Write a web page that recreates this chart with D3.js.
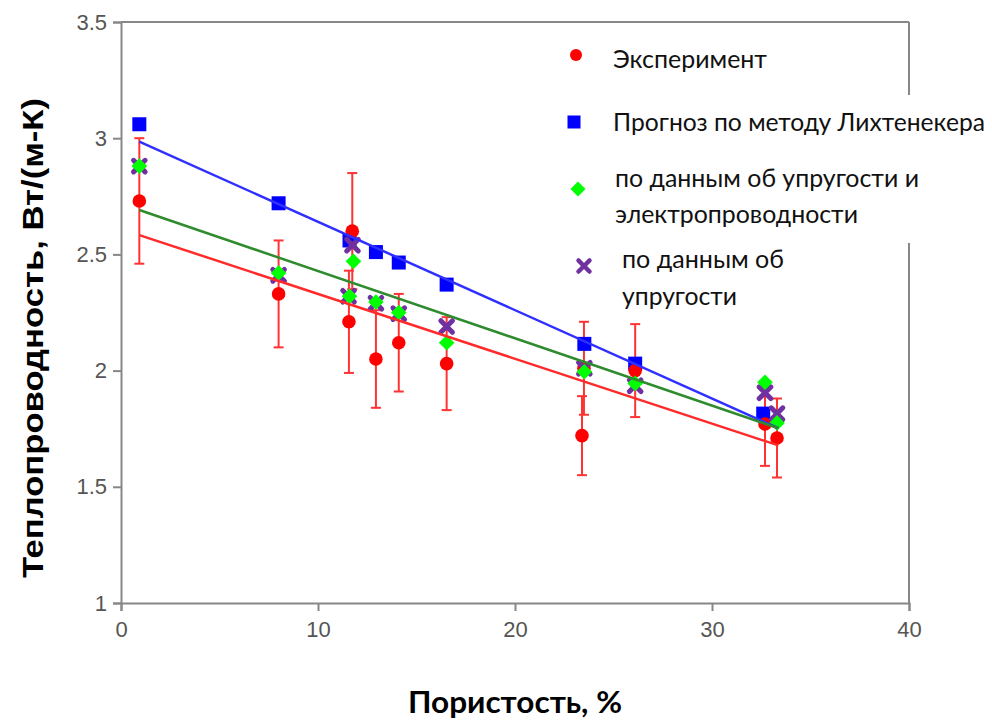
<!DOCTYPE html>
<html>
<head>
<meta charset="utf-8">
<script src="https://cdn.jsdelivr.net/npm/d3@7"></script>
<style>
  html, body { margin: 0; padding: 0; background: #fff; }
  svg { display: block; }
</style>
</head>
<body>
<svg id="chart" width="992" height="721"></svg>
<script>
// Эксперимент: пористость, теплопроводность и погрешность
const expX   = [0.93, 8.0, 11.57, 11.74, 12.94, 14.1, 16.53, 23.4, 23.5, 26.1, 32.69, 33.3];
const expY   = [2.73, 2.33, 2.21, 2.60, 2.05, 2.12, 2.03, 1.72, 2.01, 2.00, 1.77, 1.71];
const expErr = [0.27, 0.23, 0.22, 0.25, 0.21, 0.21, 0.20, 0.17, 0.20, 0.20, 0.18, 0.17];

// Прогноз по методу Лихтенекера
const lichX = [0.93, 8.0, 11.6, 12.94, 14.1, 16.53, 23.52, 26.1, 32.6];
const lichY = [3.06, 2.72, 2.56, 2.51, 2.465, 2.37, 2.115, 2.03, 1.815];

// По данным об упругости и электропроводности
const elasElecX = [0.93, 8.0, 11.6, 11.8, 12.94, 14.1, 16.53, 23.52, 26.1, 32.69, 33.3];
const elasElecY = [2.88, 2.42, 2.32, 2.47, 2.295, 2.25, 2.12, 1.995, 1.945, 1.95, 1.775];

// По данным об упругости
const elasX = [0.93, 8.0, 11.55, 11.75, 12.94, 14.1, 16.53, 23.52, 26.1, 32.69, 33.3];
const elasY = [2.88, 2.41, 2.32, 2.54, 2.29, 2.245, 2.19, 2.01, 1.935, 1.905, 1.815];

// Линии тренда: значения на концах диапазона пористости
const trendX      = [0.93, 33.37];
const trendExp    = [2.583, 1.678];
const trendLich   = [2.985, 1.752];
const trendElElec = [2.691, 1.752];

const xTicks = [0, 10, 20, 30, 40];
const yTicks = [1, 1.5, 2, 2.5, 3, 3.5];

const svg = d3.select("#chart");
const plotLeft = 121, plotRight = 909, plotTop = 22, plotBottom = 603;

const x = d3.scaleLinear().domain([0, 40]).range([plotLeft, plotRight]);
const y = d3.scaleLinear().domain([1, 3.5]).range([plotBottom, plotTop]);

const axisColor = "#878787";
const tickFont = "'Liberation Sans', Arial, sans-serif";

// Рамка области построения (верх и право)
svg.append("line").attr("x1", plotLeft).attr("x2", plotRight).attr("y1", plotTop).attr("y2", plotTop)
  .attr("stroke", axisColor).attr("stroke-width", 2);
svg.append("line").attr("x1", plotRight).attr("x2", plotRight).attr("y1", plotTop).attr("y2", plotBottom)
  .attr("stroke", axisColor).attr("stroke-width", 2);

// Оси
const xAxis = svg.append("g").attr("transform", `translate(0,${plotBottom})`)
  .call(d3.axisBottom(x).tickValues(xTicks).tickFormat(d3.format("d")).tickSize(8).tickPadding(10));
const yAxis = svg.append("g").attr("transform", `translate(${plotLeft},0)`)
  .call(d3.axisLeft(y).tickValues(yTicks).tickFormat(d => String(d)).tickSize(8).tickPadding(6));

[xAxis, yAxis].forEach(g => {
  g.select(".domain").attr("stroke", axisColor).attr("stroke-width", 2);
  g.selectAll(".tick line").attr("stroke", axisColor).attr("stroke-width", 2);
  g.selectAll(".tick text").attr("fill", "#555").style("font-family", tickFont).style("font-size", "22px");
});

// Погрешности эксперимента
const errG = svg.append("g").attr("stroke", "#ff3333").attr("stroke-width", 2).attr("fill", "none");
expX.forEach((xv, i) => {
  const cx = x(xv), y0 = y(expY[i] - expErr[i]), y1 = y(expY[i] + expErr[i]);
  errG.append("line").attr("x1", cx).attr("x2", cx).attr("y1", y0).attr("y2", y1);
  errG.append("line").attr("x1", cx - 5).attr("x2", cx + 5).attr("y1", y0).attr("y2", y0);
  errG.append("line").attr("x1", cx - 5).attr("x2", cx + 5).attr("y1", y1).attr("y2", y1);
});

// Маркеры
const squareSize = 14;
svg.append("g").selectAll("rect").data(lichX).join("rect")
  .attr("x", d => x(d) - squareSize / 2)
  .attr("y", (d, i) => y(lichY[i]) - squareSize / 2)
  .attr("width", squareSize).attr("height", squareSize)
  .attr("fill", "#0000ff");

svg.append("g").selectAll("circle").data(expX).join("circle")
  .attr("cx", d => x(d)).attr("cy", (d, i) => y(expY[i])).attr("r", 6.8)
  .attr("fill", "#ff0000");

const crossPath = s => `M${-s},${-s}L${s},${s}M${-s},${s}L${s},${-s}`;
svg.append("g").selectAll("path").data(elasX).join("path")
  .attr("transform", (d, i) => `translate(${x(d)},${y(elasY[i])})`)
  .attr("d", crossPath(5.8))
  .attr("stroke", "#7030a0").attr("stroke-width", 5).attr("stroke-linecap", "round").attr("fill", "none");

const diamondPath = s => `M0,${-s}L${s},0L0,${s}L${-s},0Z`;
svg.append("g").selectAll("path").data(elasElecX).join("path")
  .attr("transform", (d, i) => `translate(${x(d)},${y(elasElecY[i])})`)
  .attr("d", diamondPath(7.8))
  .attr("fill", "#00ff00");

// Линии тренда
const trendLine = d3.line().x(d => x(d[0])).y(d => y(d[1]));
[[trendExp, "#ff2b2b"], [trendLich, "#2f2fff"], [trendElElec, "#2e8b2e"]].forEach(([vals, col]) => {
  svg.append("path")
    .datum(trendX.map((xv, i) => [xv, vals[i]]))
    .attr("d", trendLine)
    .attr("stroke", col).attr("stroke-width", 2.5).attr("fill", "none");
});

// Подписи осей
svg.append("text")
  .attr("transform", "translate(43,338) rotate(-90)")
  .attr("text-anchor", "middle")
  .attr("textLength", 480).attr("lengthAdjust", "spacingAndGlyphs")
  .style("font-family", tickFont).style("font-weight", "bold").style("font-size", "30px")
  .attr("fill", "#000")
  .text("Теплопроводность, Вт/(м-К)");

svg.append("text")
  .attr("x", 515).attr("y", 713)
  .attr("text-anchor", "middle")
  .attr("textLength", 214).attr("lengthAdjust", "spacingAndGlyphs")
  .style("font-family", "Lato, 'Open Sans', sans-serif").style("font-weight", "bold").style("font-size", "31px")
  .attr("fill", "#000")
  .text("Пористость, %");

// Легенда
const legend = svg.append("g");
legend.append("rect").attr("x", 555).attr("y", 95).attr("width", 437).attr("height", 148).attr("fill", "#fff");

const legendFont = "Lato, 'Open Sans', sans-serif";
const legendLines = [
  { x: 613, y: 68, w: 154, t: "Эксперимент" },
  { x: 613, y: 131, w: 372, t: "Прогноз по методу Лихтенекера" },
  { x: 615, y: 187, w: 304, t: "по данным об упругости и" },
  { x: 615, y: 223, w: 243, t: "электропроводности" },
  { x: 622, y: 268, w: 162, t: "по данным об" },
  { x: 622, y: 305, w: 115, t: "упругости" }
];
legend.selectAll("text").data(legendLines).join("text")
  .attr("x", d => d.x).attr("y", d => d.y)
  .attr("textLength", d => d.w).attr("lengthAdjust", "spacingAndGlyphs")
  .style("font-family", legendFont).style("font-size", "25px")
  .attr("fill", "#111")
  .text(d => d.t);

legend.append("circle").attr("cx", 576).attr("cy", 55).attr("r", 6).attr("fill", "#ff0000");
legend.append("rect").attr("x", 574 - 6.5).attr("y", 122 - 6.5).attr("width", 13).attr("height", 13).attr("fill", "#0000ff");
legend.append("path").attr("transform", "translate(578,189)").attr("d", diamondPath(7.5)).attr("fill", "#00ff00");
legend.append("path").attr("transform", "translate(584,266)").attr("d", crossPath(5.5))
  .attr("stroke", "#7030a0").attr("stroke-width", 4.5).attr("stroke-linecap", "round").attr("fill", "none");
</script>
</body>
</html>
